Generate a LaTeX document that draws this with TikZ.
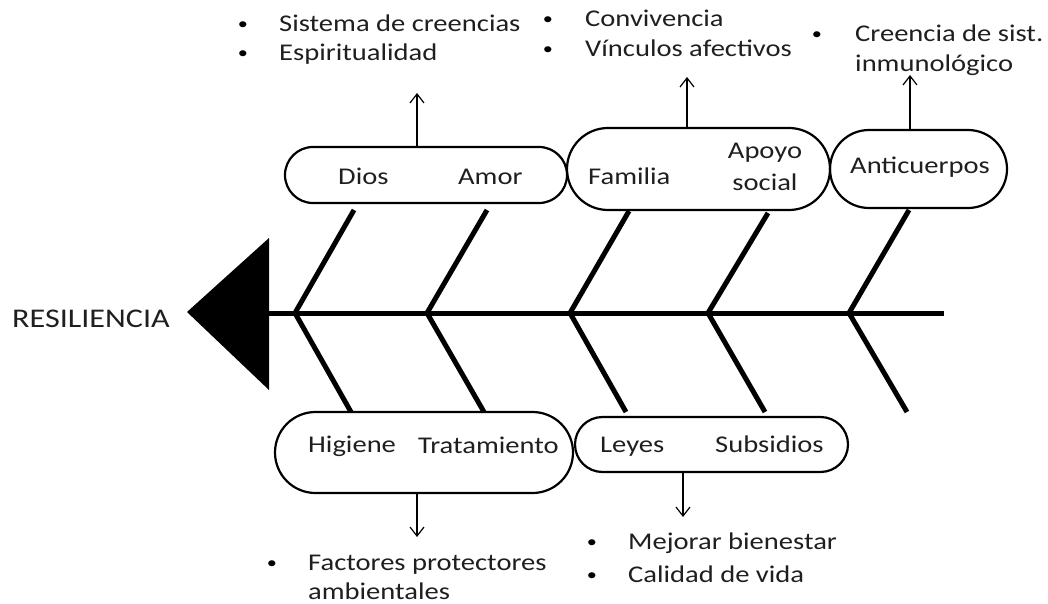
\documentclass[tikz,border=0pt]{standalone}
\usepackage{fontspec}
\setmainfont{Carlito}[FakeStretch=1.19]
\usetikzlibrary{arrows.meta,shapes.misc}
\begin{document}
\begin{tikzpicture}[x=1pt,y=-1pt,
  txt/.style={anchor=base west, inner sep=0pt, font=\fontsize{24}{29}\selectfont, text=black!88},
  ctxt/.style={anchor=base, inner sep=0pt, font=\fontsize{24}{29}\selectfont, text=black!88},
  bul/.style={anchor=base, inner sep=0pt, font=\fontsize{17}{20}\selectfont},
  blob/.style={draw, line width=2.2pt, rounded rectangle, inner sep=0pt},
  bone/.style={line width=5pt, line join=miter},
  arr/.style={line width=1.2pt, -{Straight Barb[length=9pt,width=14pt]}}]
\useasboundingbox (0,0) rectangle (1048,604);

% head
\coordinate (tipL) at (187,312);
\coordinate (tipT) at (269,238);
\coordinate (tipB) at (269,390);
\fill[black] (tipL) -- (tipT) -- (tipB) -- cycle;
\node[anchor=base west, inner sep=0pt, font=\fontsize{27}{32}\selectfont, text=black!88] (res) at (12,327) {RESILIENCIA};

% spine
\coordinate (s0) at (269,313);
\coordinate (s1) at (944,313);
\draw[bone] (s0) -- (s1);

% bones
\coordinate (v1) at (295,313); \coordinate (u1) at (354,210); \coordinate (l1) at (351,412);
\coordinate (v2) at (427,313); \coordinate (u2) at (487,210); \coordinate (l2) at (484,412);
\coordinate (v3) at (570,313); \coordinate (u3) at (629,211); \coordinate (l3) at (626,412);
\coordinate (v4) at (708,313); \coordinate (u4) at (768,213); \coordinate (l4) at (765,412);
\coordinate (v5) at (849,313); \coordinate (u5) at (909,210); \coordinate (l5) at (907,412);
\foreach \i in {1,...,5} {\draw[bone] (u\i) -- (v\i) -- (l\i);}

% blobs
\node[blob, minimum width=282pt, minimum height=56pt] (b1) at (426,175) {};
\node[blob, minimum width=263pt, minimum height=82pt] (b2) at (698.5,169) {};
\node[blob, minimum width=177pt, minimum height=78pt] (b3) at (918.5,169) {};
\node[blob, minimum width=298pt, minimum height=81pt] (b4) at (424,452.5) {};
\node[blob, minimum width=273pt, minimum height=55pt] (b5) at (711.5,444.5) {};

% blob texts
\node[txt] (dios) at (338,185) {Dios};
\node[txt] (amor) at (458,185) {Amor};
\node[txt] (fam) at (588,185) {Familia};
\node[ctxt] (apoyo) at (765,159) {Apoyo};
\node[ctxt] (social) at (765,190) {social};
\node[txt] (anti) at (850,174) {Anticuerpos};
\node[txt] (hig) at (308,452) {Higiene};
\node[txt] (trat) at (418,453) {Tratamiento};
\node[txt] (leyes) at (600,452) {Leyes};
\node[txt] (subs) at (715,452) {Subsidios};

% outer texts
\node[bul] (p1) at (243,30) {•};
\node[txt] (t1) at (279,32) {Sistema de creencias};
\node[bul] (p2) at (243,59) {•};
\node[txt] (t2) at (279,61) {Espiritualidad};
\node[bul] (p3) at (548,25) {•};
\node[txt] (t3) at (585,27) {Convivencia};
\node[bul] (p4) at (548,55) {•};
\node[txt] (t4) at (585,57) {Vínculos afectivos};
\node[bul] (p5) at (817,40) {•};
\node[txt] (t5) at (855,42) {Creencia de sist.};
\node[txt] (t6) at (855,72) {inmunológico};
\node[bul] (p6) at (272,568) {•};
\node[txt] (t7) at (308,570) {Factores protectores};
\node[txt] (t8) at (308,599) {ambientales};
\node[bul] (p7) at (592,547) {•};
\node[txt] (t9) at (628,549) {Mejorar bienestar};
\node[bul] (p8) at (592,580) {•};
\node[txt] (t10) at (628,582) {Calidad de vida};

% arrows
\coordinate (a1) at (417,93);
\coordinate (a2) at (687,77);
\coordinate (a3) at (910,75);
\coordinate (a4) at (417,537);
\coordinate (a5) at (683,517);
\draw[arr] (a1 |- b1.north) -- (a1);
\draw[arr] (a2 |- b2.north) -- (a2);
\draw[arr] (a3 |- b3.north) -- (a3);
\draw[arr] (a4 |- b4.south) -- (a4);
\draw[arr] (a5 |- b5.south) -- (a5);
\end{tikzpicture}
\end{document}
